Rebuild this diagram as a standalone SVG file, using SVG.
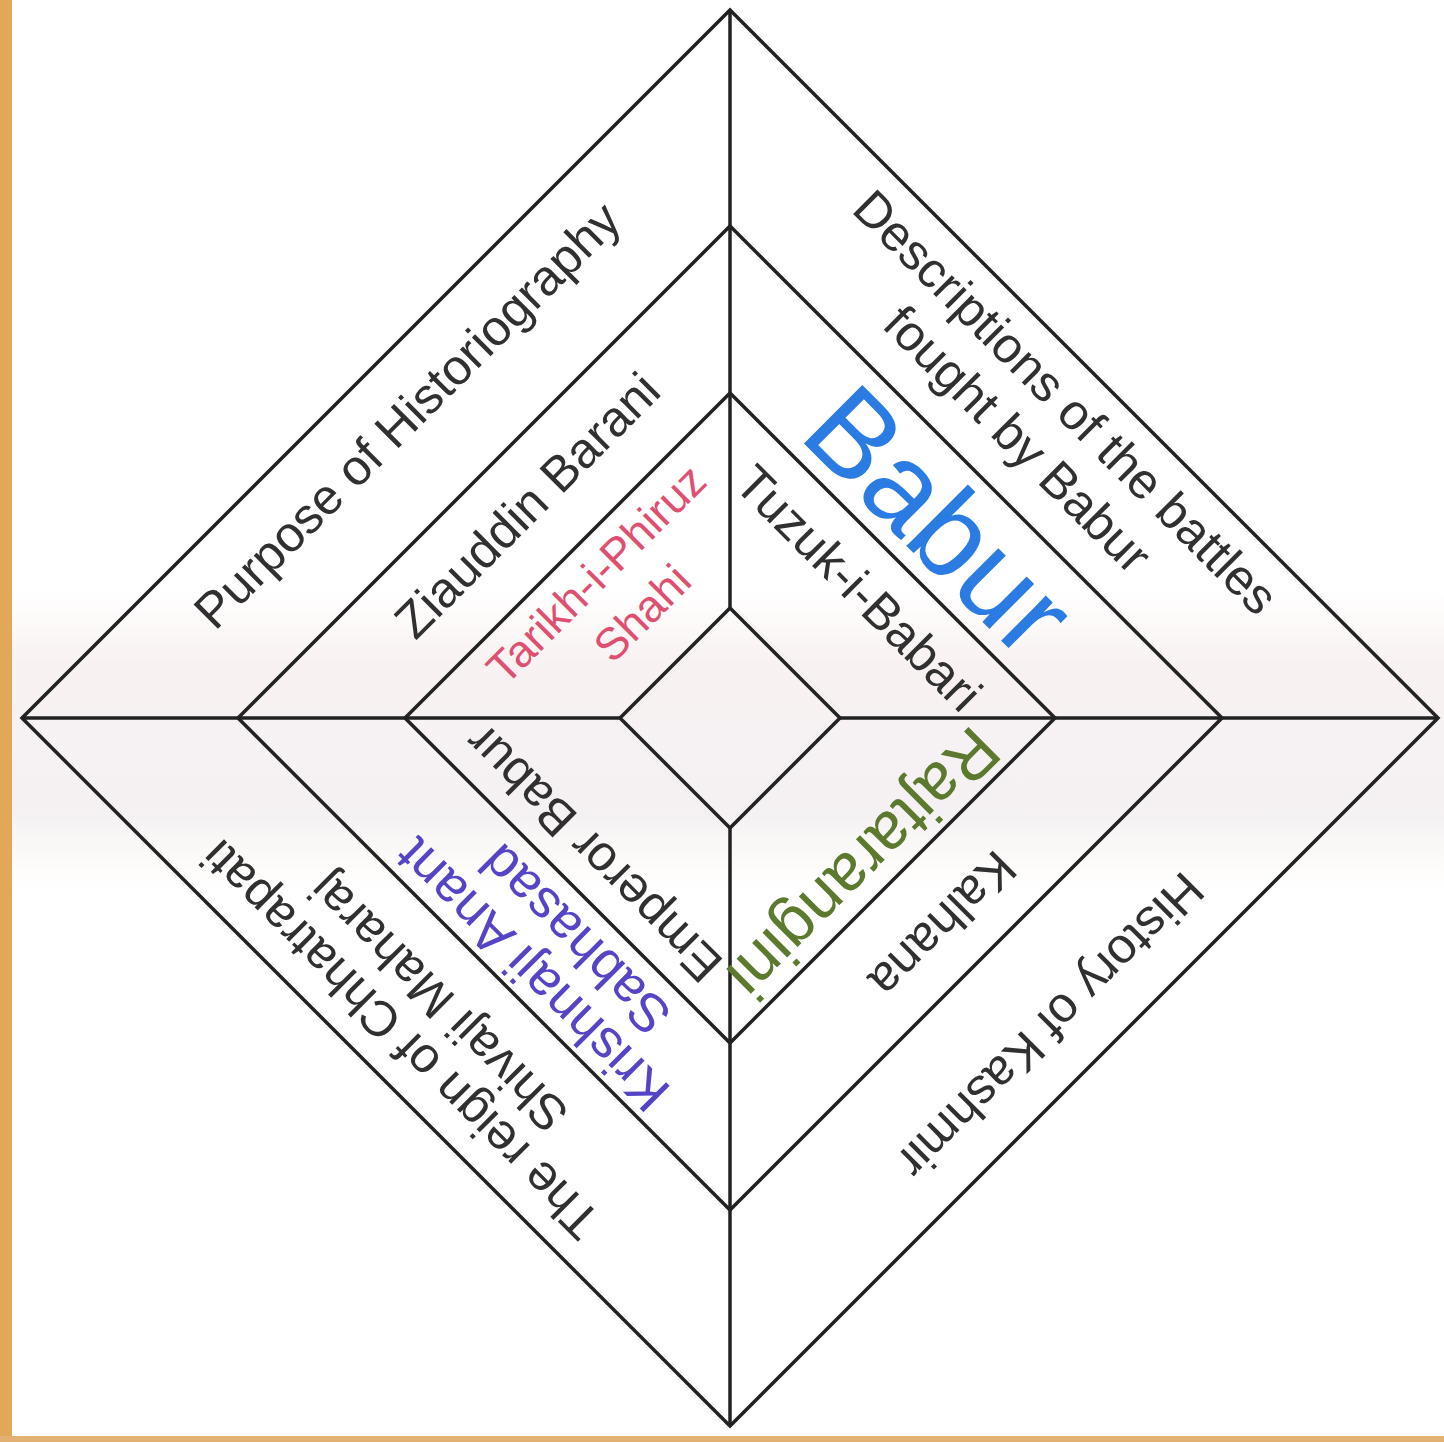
<svg xmlns="http://www.w3.org/2000/svg" width="1444" height="1442" viewBox="0 0 1444 1442">
<defs>
<style>
.ln{stroke:#222222;stroke-width:3.5;fill:none;stroke-linejoin:miter}
text{font-family:"Liberation Sans",Arial,sans-serif;text-anchor:middle;fill:#303030}
.t{font-size:50px}
.pink{fill:#df4f70;font-size:45px}
.blue{fill:#2a7be2;font-size:120px}
.green{fill:#5b7a2e;font-size:66px}
.purple{fill:#5545c6;font-size:54px}
</style>
<linearGradient id="wm" x1="0" y1="0" x2="0" y2="1">
<stop offset="0" stop-color="#f6ebe6" stop-opacity="0"/>
<stop offset="0.25" stop-color="#f3e8e8" stop-opacity="0.6"/>
<stop offset="0.75" stop-color="#eee8ec" stop-opacity="0.6"/>
<stop offset="1" stop-color="#f7efe6" stop-opacity="0"/>
</linearGradient>
</defs>
<rect x="0" y="0" width="1444" height="1442" fill="#ffffff"/>
<rect x="12" y="590" width="1432" height="300" fill="url(#wm)"/>
<rect x="0" y="0" width="12" height="1442" fill="#e2a85a"/>
<rect x="0" y="1436" width="1444" height="6" fill="#e2b070"/>

<g id="connectors" class="ln">
<line x1="730" y1="10" x2="730" y2="608"/>
<line x1="730" y1="828" x2="730" y2="1426"/>
<line x1="22" y1="718" x2="620" y2="718"/>
<line x1="840" y1="718" x2="1438" y2="718"/>
</g>

<g id="diamond-outer"><polygon class="ln" points="730,10 1438,718 730,1426 22,718"/></g>
<g id="diamond-second"><polygon class="ln" points="730,226 1222,718 730,1210 238,718"/></g>
<g id="diamond-third"><polygon class="ln" points="730,393 1055,718 730,1043 405,718"/></g>
<g id="diamond-inner"><polygon class="ln" points="730,608 840,718 730,828 620,718"/></g>

<g id="purpose"><text class="t" transform="translate(407,415) rotate(-45)" dy="0.35em">Purpose of Historiography</text></g>
<g id="barani"><text class="t" transform="translate(527,505) rotate(-45)" dy="0.35em">Ziauddin Barani</text></g>
<g id="tarikh">
<text class="pink" transform="translate(596,574) rotate(-45)" dy="0.35em">Tarikh-i-Phiruz</text>
<text class="pink" transform="translate(642,613) rotate(-45)" dy="0.35em">Shahi</text>
</g>

<g id="descriptions">
<text class="t" transform="translate(1066,402) rotate(45)" dy="0.35em">Descriptions of the battles</text>
<text class="t" transform="translate(1018,439) rotate(45)" dy="0.35em">fought by Babur</text>
</g>
<g id="babur"><text class="blue" transform="translate(940,520) rotate(45)" dy="0.35em">Babur</text></g>
<g id="tuzuk"><text class="t" transform="translate(859,588) rotate(45)" dy="0.35em">Tuzuk-i-Babari</text></g>

<g id="rajtarangini"><text class="green" transform="translate(864,864) rotate(135)" dy="0.35em">Rajtarangini</text></g>
<g id="kalhana"><text class="t" transform="translate(943,925) rotate(135)" dy="0.35em">Kalhana</text></g>
<g id="kashmir"><text class="t" transform="translate(1051,1026) rotate(135)" dy="0.35em">History of Kashmir</text></g>

<g id="emperor"><text class="t" transform="translate(593,854) rotate(225)" dy="0.35em">Emperor Babur</text></g>
<g id="sabhasad">
<text class="purple" transform="translate(532,975) rotate(225)" dy="0.35em">Krishnaji Anant</text>
<text class="purple" transform="translate(575,940) rotate(225)" dy="0.35em">Sabhasad</text>
</g>
<g id="shivaji">
<text class="t" transform="translate(400,1040) rotate(225)" dy="0.35em">The reign of Chhatrapati</text>
<text class="t" transform="translate(438,1003) rotate(225)" dy="0.35em">Shivaji Maharaj</text>
</g>
</svg>
